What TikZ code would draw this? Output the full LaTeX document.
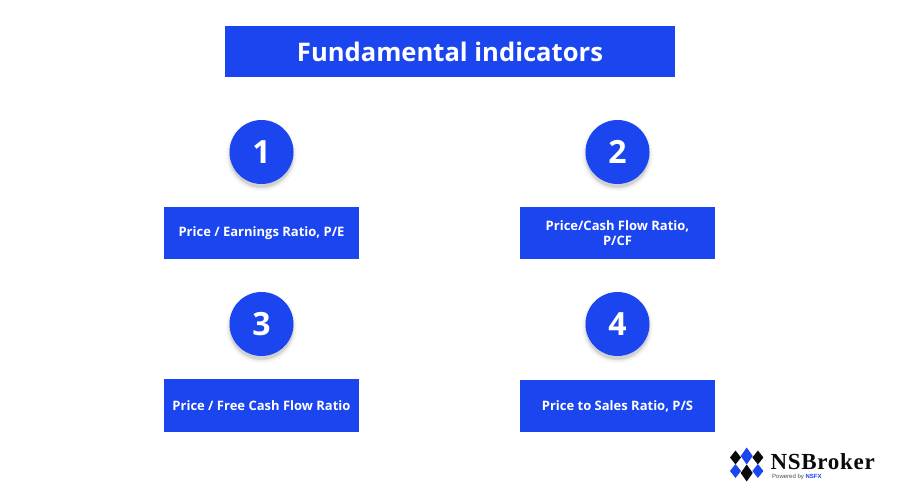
\documentclass[tikz,border=0pt]{standalone}
\usepackage{fontspec}
\setmainfont{Open Sans}
\newfontfamily\logofont[LetterSpace=3]{Liberation Serif}
\newfontfamily\subfont{Liberation Sans}
\definecolor{brand}{HTML}{1B45EF}
\definecolor{inkblack}{HTML}{0A0A0A}
\tikzset{
  x=1pt,y=-1pt,
  titlebox/.style={fill=brand,text=white,minimum width=450pt,minimum height=51pt,inner sep=0pt,font=\fontsize{25.6}{30}\selectfont\bfseries},
  labelbox/.style={fill=brand,text=white,minimum width=195pt,minimum height=52pt,inner sep=0pt,align=center,font=\fontsize{13}{15.5}\selectfont\bfseries},
  numdisc/.style={circle,fill=brand,text=white,minimum size=64pt,inner sep=0pt,font=\fontsize{32}{36}\selectfont\bfseries},
  blackgem/.style={fill=inkblack,draw=none},
  bluegem/.style={fill=brand,draw=none},
}
\newcommand{\discshadow}[2]{%
  \foreach \r/\o in {36/.015,35/.02,34/.025,33/.03,32.5/.04,32/.05}{
    \fill[black,opacity=\o] (#1,#2+3.5) circle[radius=\r];
  }%
}
\newcommand{\gem}[5]{\fill[#1] (#2-#4,#3) -- (#2,#3-#5) -- (#2+#4,#3) -- (#2,#3+#5) -- cycle;}
\begin{document}
\begin{tikzpicture}
\useasboundingbox (0,0) rectangle (900,500);
\fill[white] (0,0) rectangle (900,500);
\node[titlebox] (title) at (450,51.5) {Fundamental indicators};
\discshadow{261.5}{152}
\discshadow{617.5}{152}
\discshadow{261.5}{324}
\discshadow{617.5}{324}
\node[numdisc] (n1) at (261.5,152) {1};
\node[numdisc] (n2) at (617.5,152) {2};
\node[numdisc] (n3) at (261.5,324) {3};
\node[numdisc] (n4) at (617.5,324) {4};
\node[labelbox] (b1) at (261.5,233) {Price / Earnings Ratio, P/E};
\node[labelbox] (b2) at (617.5,233) {Price/Cash Flow Ratio,\\P/CF};
\node[labelbox,minimum height=53pt] (b3) at (261.5,405.5) {Price / Free Cash Flow Ratio};
\node[labelbox] (b4) at (617.5,406) {Price to Sales Ratio, P/S};
\gem{bluegem}{746.7}{456}{6}{8.5}
\gem{blackgem}{735.5}{457.5}{5.5}{7}
\gem{blackgem}{757.9}{457.5}{5.5}{7}
\gem{bluegem}{735.5}{471}{5.5}{7}
\gem{bluegem}{757.9}{471}{5.5}{7}
\gem{blackgem}{746.7}{473}{6}{8.5}
\node[anchor=west,inner sep=0pt,text=inkblack,font=\logofont\fontsize{23}{24}\selectfont\bfseries] (logo) at (770.5,462) {NSBroker};
\node[anchor=west,inner sep=0pt,text=black!70,font=\subfont\fontsize{6}{6}\selectfont] (pow) at (772,476.7) {Powered by \textcolor{brand}{\bfseries NSFX}};
\end{tikzpicture}
\end{document}
